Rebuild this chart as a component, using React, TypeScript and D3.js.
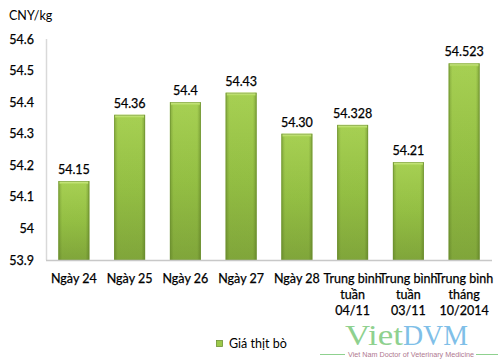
import React from "react";
import * as d3 from "d3";

const categories = ["Ngày 24", "Ngày 25", "Ngày 26", "Ngày 27", "Ngày 28", "TB tuần 04/11", "TB tuần 03/11", "TB tháng 10/2014"];
const categoryLines = [
  ["Ngày 24"],
  ["Ngày 25"],
  ["Ngày 26"],
  ["Ngày 27"],
  ["Ngày 28"],
  ["Trung bình", "tuần", "04/11"],
  ["Trung bình", "tuần", "03/11"],
  ["Trung bình", "tháng", "10/2014"],
];
const values = [54.15, 54.36, 54.4, 54.43, 54.3, 54.328, 54.21, 54.523];
const valueLabels = ["54.15", "54.36", "54.4", "54.43", "54.30", "54.328", "54.21", "54.523"];
const tickValues = [53.9, 54.0, 54.1, 54.2, 54.3, 54.4, 54.5, 54.6];
const tickLabels = ["53.9", "54", "54.1", "54.2", "54.3", "54.4", "54.5", "54.6"];
const seriesName = "Giá thịt bò";
const unitLabel = "CNY/kg";

const FONT = "Lato, 'Open Sans', sans-serif";
const FS = 12.5;

export default function App() {
  const W = 500;
  const H = 360;
  const left = 46;
  const right = 492;
  const top = 39;
  const bottom = 260;

  const x = d3.scaleBand<string>().domain(categories).range([left, right]).paddingInner(0.444).paddingOuter(0.222);
  const y = d3.scaleLinear().domain([53.9, 54.6]).range([bottom, top]);

  const textProps = { fontSize: FS, fill: "#000", stroke: "#000", strokeWidth: 0.25 };

  return (
    <svg width={W} height={H} style={{ position: "absolute", left: 0, top: 0, background: "#fff" }} fontFamily={FONT}>
      <defs>
        <linearGradient id="barV" x1="0" y1="0" x2="0" y2="1">
          <stop offset="0" stopColor="#acd656" />
          <stop offset="0.5" stopColor="#98c446" />
          <stop offset="1" stopColor="#83a93c" />
        </linearGradient>
        <linearGradient id="barH" x1="0" y1="0" x2="1" y2="0">
          <stop offset="0" stopColor="#3f5a14" stopOpacity="0.35" />
          <stop offset="0.12" stopColor="#3f5a14" stopOpacity="0.05" />
          <stop offset="0.88" stopColor="#3f5a14" stopOpacity="0.05" />
          <stop offset="1" stopColor="#3f5a14" stopOpacity="0.4" />
        </linearGradient>
        <linearGradient id="barTop" x1="0" y1="0" x2="0" y2="1">
          <stop offset="0" stopColor="#d9f09a" />
          <stop offset="1" stopColor="#a9d352" />
        </linearGradient>
      </defs>
      <rect x={0} y={0} width={W} height={H} fill="#fff" />

      <text x={9} y={20} {...textProps} strokeWidth={0}>{unitLabel}</text>

      {tickValues.map((t, i) => (
        <text key={i} x={34} y={y(t) + 4.5} textAnchor="end" {...textProps}>
          {tickLabels[i]}
        </text>
      ))}

      <line x1={left + 0.5} x2={left + 0.5} y1={top} y2={bottom} stroke="#d9d9d9" strokeWidth={1.5} />

      {values.map((v, i) => {
        const bx = x(categories[i])!;
        const bw = x.bandwidth();
        const by = y(v);
        const bh = bottom - by;
        return (
          <g key={i}>
            <rect x={bx} y={by} width={bw} height={bh} fill="url(#barV)" />
            <rect x={bx} y={by} width={bw} height={bh} fill="url(#barH)" />
            <rect x={bx + 1} y={by} width={bw - 2} height={3} fill="url(#barTop)" />
            <rect x={bx + 0.5} y={by + 0.5} width={bw - 1} height={bh - 0.5} fill="none" stroke="#6e9232" strokeWidth={0.8} strokeOpacity={0.7} />
            <text x={bx + bw / 2} y={by - 7} textAnchor="middle" {...textProps}>
              {valueLabels[i]}
            </text>
          </g>
        );
      })}

      <line x1={left} x2={right} y1={bottom + 0.5} y2={bottom + 0.5} stroke="#c8c8c8" strokeWidth={1.5} />

      {categoryLines.map((lines, i) => {
        const cx = x(categories[i])! + x.bandwidth() / 2;
        return (
          <text key={i} x={cx} y={283} textAnchor="middle" {...textProps}>
            {lines.map((l, j) => (
              <tspan key={j} x={cx} y={283 + j * 16}>
                {l}
              </tspan>
            ))}
          </text>
        );
      })}

      <g>
        <rect x={216.5} y={340.5} width={6} height={6} fill="#9cc94a" stroke="#6e9232" strokeWidth={0.8} />
        <text x={229} y={348} {...textProps} strokeWidth={0}>{seriesName}</text>
      </g>

      <g>
        <text x={345} y={345} fontFamily="'Liberation Serif', serif" fontSize={30} fill="#8fd18f" textLength={58} lengthAdjust="spacingAndGlyphs">Viet</text>
        <text x={403} y={345} fontFamily="'Liberation Serif', serif" fontSize={30} fill="#80bfe8" textLength={65} lengthAdjust="spacingAndGlyphs">DVM</text>
        <line x1={320} x2={345} y1={354.5} y2={354.5} stroke="#8fd18f" strokeWidth={1} />
        <line x1={476} x2={498} y1={354.5} y2={354.5} stroke="#8fd18f" strokeWidth={1} />
        <text x={348} y={357} fontFamily="'Liberation Sans Narrow', 'Liberation Sans', sans-serif" fontSize={8} fill="#b07890" textLength={126} lengthAdjust="spacingAndGlyphs">Viet Nam Doctor of Veterinary Medicine</text>
      </g>
    </svg>
  );
}
